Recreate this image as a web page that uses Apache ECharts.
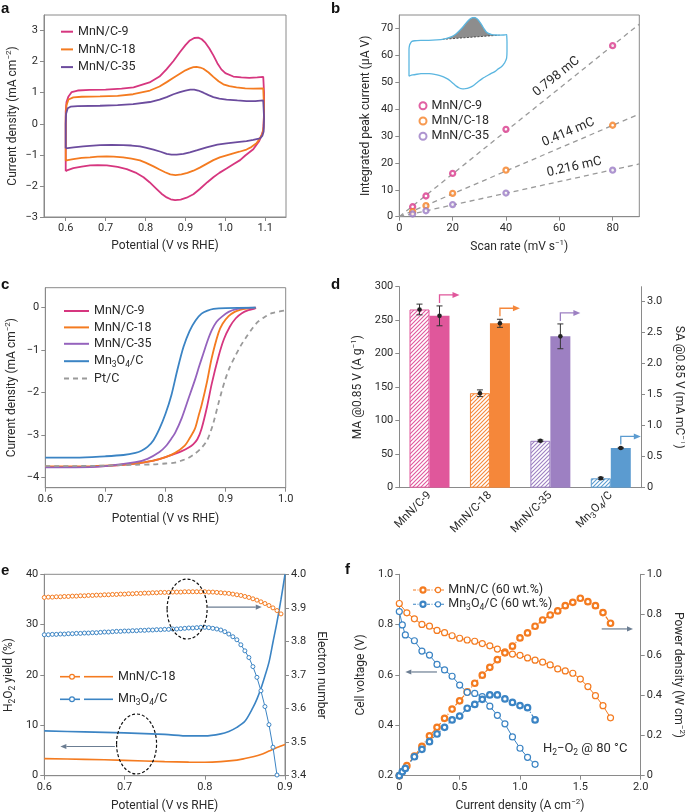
<!DOCTYPE html>
<html>
<head>
<meta charset="utf-8">
<script src="https://cdn.jsdelivr.net/npm/echarts@6.0.0/dist/echarts.min.js"></script>
<style>
html,body{margin:0;padding:0;background:#ffffff;}
#chart{width:685px;height:812px;}
</style>
</head>
<body>
<div id="chart"></div>
<script>
// ===== Panel a: cyclic voltammograms [potential V vs RHE, current density mA cm-2] =====
const cvMnNC9 = [[0.6,-1.53],[0.6,-0.5],[0.6,0.4],[0.602,0.7],[0.607,0.88],[0.615,1.02],[0.63,1.07],[0.66,1.09],[0.7,1.1],[0.74,1.13],[0.77,1.17],[0.81,1.33],[0.835,1.52],[0.853,1.76],[0.87,2.02],[0.886,2.3],[0.9,2.53],[0.911,2.68],[0.922,2.76],[0.932,2.77],[0.941,2.72],[0.949,2.62],[0.96,2.42],[0.97,2.2],[0.98,1.95],[0.99,1.75],[1.0,1.63],[1.02,1.52],[1.04,1.49],[1.06,1.48],[1.08,1.49],[1.095,1.51],[1.097,1.52],
  [1.097,1.0],[1.097,0.3],[1.095,-0.2],[1.09,-0.4],[1.085,-0.55],[1.07,-0.82],[1.05,-1.02],[1.037,-1.17],[1.02,-1.3],[1.003,-1.44],[0.985,-1.58],[0.97,-1.72],[0.955,-1.88],[0.936,-2.1],[0.92,-2.27],[0.903,-2.38],[0.888,-2.44],[0.874,-2.46],[0.863,-2.43],[0.853,-2.37],[0.84,-2.25],[0.828,-2.1],[0.81,-1.88],[0.795,-1.72],[0.775,-1.57],[0.753,-1.46],[0.73,-1.39],[0.703,-1.34],[0.68,-1.33],[0.661,-1.34],[0.64,-1.38],[0.619,-1.43],[0.605,-1.49],[0.6,-1.53]];
const cvMnNC18 = [[0.6,-1.19],[0.6,0.2],[0.602,0.6],[0.607,0.78],[0.619,0.85],[0.64,0.87],[0.686,0.88],[0.73,0.9],[0.769,0.95],[0.811,1.07],[0.835,1.2],[0.853,1.34],[0.87,1.48],[0.886,1.61],[0.9,1.72],[0.911,1.78],[0.92,1.82],[0.928,1.83],[0.937,1.81],[0.945,1.77],[0.958,1.65],[0.97,1.51],[0.983,1.37],[0.995,1.27],[1.01,1.21],[1.028,1.17],[1.05,1.14],[1.07,1.13],[1.095,1.14],[1.097,1.15],
  [1.097,0.5],[1.096,-0.1],[1.093,-0.32],[1.085,-0.5],[1.078,-0.63],[1.065,-0.75],[1.053,-0.83],[1.035,-0.9],[1.02,-0.95],[0.986,-1.08],[0.97,-1.17],[0.953,-1.29],[0.936,-1.41],[0.92,-1.51],[0.905,-1.58],[0.89,-1.63],[0.875,-1.65],[0.862,-1.63],[0.849,-1.56],[0.835,-1.47],[0.82,-1.37],[0.8,-1.25],[0.786,-1.18],[0.765,-1.12],[0.744,-1.08],[0.72,-1.06],[0.703,-1.05],[0.68,-1.06],[0.661,-1.08],[0.64,-1.1],[0.619,-1.14],[0.605,-1.17],[0.6,-1.19]];
const cvMnNC35 = [[0.6,-0.79],[0.6,0.0],[0.601,0.32],[0.605,0.5],[0.612,0.55],[0.63,0.57],[0.686,0.58],[0.73,0.6],[0.769,0.63],[0.811,0.7],[0.835,0.78],[0.853,0.86],[0.87,0.95],[0.886,1.02],[0.9,1.07],[0.912,1.1],[0.922,1.1],[0.932,1.07],[0.945,1.0],[0.958,0.92],[0.97,0.86],[0.985,0.81],[1.003,0.78],[1.03,0.75],[1.053,0.73],[1.075,0.73],[1.095,0.75],[1.097,0.76],
  [1.097,0.2],[1.096,-0.25],[1.093,-0.38],[1.087,-0.47],[1.07,-0.52],[1.053,-0.56],[1.03,-0.59],[1.003,-0.63],[0.98,-0.67],[0.953,-0.76],[0.93,-0.85],[0.911,-0.92],[0.895,-0.97],[0.878,-0.99],[0.865,-0.99],[0.853,-0.97],[0.838,-0.9],[0.82,-0.83],[0.8,-0.77],[0.786,-0.73],[0.765,-0.7],[0.744,-0.69],[0.715,-0.68],[0.686,-0.69],[0.66,-0.71],[0.644,-0.73],[0.62,-0.76],[0.6,-0.79]];

// ===== Panel b: integrated peak current vs scan rate =====
const scanRates = [5, 10, 20, 40, 80];
const peakMnNC9 = [3.7, 7.7, 16.1, 32.5, 63.6];
const peakMnNC18 = [1.9, 4.1, 8.7, 17.3, 34.0];
const peakMnNC35 = [1.0, 2.2, 4.5, 8.8, 17.3];
const fitLabels = ['0.798 mC', '0.414 mC', '0.216 mC'];
const fitEndAt90 = [71.6, 38.2, 19.6];

// ===== Panel c: ORR polarization curves [V, mA cm-2] =====
const lsvMnNC9 = [[0.6,-3.75],[0.65,-3.75],[0.7,-3.73],[0.75,-3.67],[0.78,-3.6],[0.8,-3.52],[0.816,-3.44],[0.827,-3.38],[0.838,-3.3],[0.846,-3.22],[0.853,-3.1],[0.86,-2.85],[0.869,-2.34],[0.877,-1.79],[0.888,-1.16],[0.897,-0.75],[0.907,-0.45],[0.917,-0.25],[0.927,-0.13],[0.938,-0.06],[0.949,-0.02],[0.95,0]];
const lsvMnNC18 = [[0.6,-3.74],[0.65,-3.74],[0.7,-3.72],[0.75,-3.67],[0.78,-3.6],[0.8,-3.52],[0.816,-3.42],[0.832,-3.25],[0.84,-3.08],[0.849,-2.85],[0.855,-2.55],[0.86,-2.3],[0.869,-1.75],[0.877,-1.18],[0.888,-0.6],[0.895,-0.38],[0.905,-0.2],[0.915,-0.1],[0.924,-0.05],[0.935,-0.02],[0.95,0]];
const lsvMnNC35 = [[0.6,-3.76],[0.65,-3.76],[0.7,-3.73],[0.75,-3.64],[0.77,-3.56],[0.79,-3.4],[0.8,-3.27],[0.81,-3.08],[0.816,-2.95],[0.827,-2.6],[0.838,-2.15],[0.849,-1.7],[0.856,-1.38],[0.863,-1.08],[0.87,-0.78],[0.877,-0.53],[0.885,-0.33],[0.894,-0.21],[0.905,-0.1],[0.916,-0.04],[0.93,-0.01],[0.95,0]];
const lsvMn3O4 = [[0.6,-3.53],[0.65,-3.53],[0.7,-3.5],[0.73,-3.47],[0.75,-3.42],[0.76,-3.37],[0.77,-3.28],[0.78,-3.12],[0.79,-2.85],[0.8,-2.5],[0.81,-2.05],[0.82,-1.45],[0.83,-0.92],[0.84,-0.55],[0.85,-0.3],[0.86,-0.14],[0.87,-0.07],[0.88,-0.03],[0.9,-0.01],[0.95,0]];
const lsvPtC = [[0.6,-3.73],[0.65,-3.73],[0.7,-3.72],[0.75,-3.7],[0.78,-3.69],[0.8,-3.67],[0.816,-3.65],[0.827,-3.6],[0.838,-3.54],[0.849,-3.44],[0.86,-3.3],[0.869,-3.13],[0.875,-2.92],[0.88,-2.7],[0.888,-2.26],[0.893,-2.0],[0.899,-1.71],[0.907,-1.4],[0.916,-1.14],[0.925,-0.9],[0.935,-0.68],[0.945,-0.48],[0.954,-0.33],[0.965,-0.22],[0.977,-0.13],[0.99,-0.09],[1.0,-0.06]];

// ===== Panel d: mass activity / specific activity =====
const catalysts = ['MnN/C-9', 'MnN/C-18', 'MnN/C-35', 'Mn3O4/C'];
const massActivity = [266, 141, 70, 14];
const massActivityErr = [8, 5, 1.2, 1.5];
const specActivity = [2.77, 2.65, 2.44, 0.64];
const specActivityErr = [0.16, 0.065, 0.2, 0.01];

// ===== Panel e: RRDE H2O2 yield and electron number =====
const h2o2MnNC18 = [[0.6,3.4],[0.65,3.25],[0.7,3.05],[0.75,2.8],[0.78,2.7],[0.8,2.68],[0.82,2.8],[0.84,3.1],[0.85,3.4],[0.86,3.75],[0.87,4.2],[0.88,4.9],[0.89,5.6],[0.9,6.2]];
const h2o2Mn3O4 = [[0.6,8.9],[0.65,8.7],[0.7,8.5],[0.75,8.2],[0.78,7.9],[0.8,7.9],[0.82,8.3],[0.83,8.8],[0.84,9.6],[0.85,10.8],[0.86,13.5],[0.865,15.2],[0.87,17.3],[0.875,19.8],[0.88,22.5],[0.885,26.5],[0.89,30.5],[0.895,35],[0.9,40]];
const rrdePotential = [0.6,0.605,0.61,0.615,0.62,0.625,0.63,0.635,0.64,0.645,0.65,0.655,0.66,0.665,0.67,0.675,0.68,0.685,0.69,0.695,0.7,0.705,0.71,0.715,0.72,0.725,0.73,0.735,0.74,0.745,0.75,0.755,0.76,0.765,0.77,0.775,0.78,0.785,0.79,0.795,0.8,0.805,0.81,0.815,0.82,0.825,0.83,0.835,0.84,0.845,0.85,0.855,0.86,0.865,0.87,0.875,0.88,0.885,0.89,0.895];
const nMnNC18 = [3.931,3.932,3.932,3.933,3.933,3.934,3.934,3.935,3.935,3.936,3.936,3.937,3.937,3.938,3.938,3.939,3.939,3.940,3.940,3.941,3.941,3.942,3.942,3.943,3.943,3.944,3.944,3.945,3.945,3.946,3.946,3.946,3.947,3.947,3.947,3.948,3.948,3.948,3.948,3.948,3.948,3.947,3.947,3.946,3.945,3.944,3.943,3.941,3.939,3.937,3.934,3.931,3.927,3.923,3.918,3.913,3.907,3.900,3.892,3.882];
const nMn3O4 = [3.820,3.820,3.821,3.821,3.822,3.822,3.823,3.823,3.824,3.824,3.825,3.825,3.826,3.826,3.827,3.828,3.828,3.829,3.830,3.830,3.831,3.831,3.832,3.832,3.833,3.833,3.834,3.834,3.835,3.835,3.836,3.836,3.837,3.837,3.838,3.839,3.840,3.840,3.841,3.842,3.842,3.841,3.839,3.837,3.834,3.829,3.822,3.814,3.805,3.790,3.772,3.752,3.725,3.693,3.653,3.606,3.552,3.485,3.402];

// ===== Panel f: H2-O2 fuel cell polarization / power =====
const fcCurrentMnNC = [0,0.0625,0.125,0.1875,0.25,0.3125,0.375,0.4375,0.5,0.5625,0.625,0.6875,0.75,0.8125,0.875,0.9375,1.0,1.0625,1.125,1.1875,1.25,1.3125,1.375,1.4375,1.5,1.5625,1.625,1.6875,1.75];
const fcVoltageMnNC = [0.884,0.847,0.823,0.801,0.794,0.777,0.768,0.756,0.746,0.739,0.734,0.725,0.716,0.703,0.692,0.683,0.678,0.668,0.659,0.651,0.640,0.624,0.616,0.607,0.584,0.554,0.518,0.478,0.430];
const fcPowerMnNC = [0,0.05,0.097,0.146,0.198,0.24,0.285,0.331,0.372,0.416,0.459,0.499,0.538,0.576,0.61,0.643,0.684,0.709,0.742,0.773,0.798,0.818,0.844,0.861,0.881,0.864,0.844,0.81,0.757];
const fcCurrentMn3O4 = [0,0.025,0.05,0.125,0.1875,0.25,0.3125,0.375,0.4375,0.5,0.5625,0.625,0.6875,0.75,0.8125,0.875,0.9375,1.0,1.0625,1.125];
const fcVoltageMn3O4 = [0.852,0.799,0.759,0.736,0.695,0.679,0.642,0.62,0.595,0.56,0.531,0.527,0.514,0.476,0.44,0.406,0.354,0.309,0.273,0.245];
const fcPowerMn3O4 = [0,0.02,0.036,0.094,0.131,0.169,0.207,0.24,0.277,0.296,0.335,0.354,0.379,0.401,0.401,0.381,0.364,0.348,0.338,0.277];

// ===== Tick labels =====
const ticksAx = [0.6,0.7,0.8,0.9,1.0,1.1];
const ticksAy = [-3,-2,-1,0,1,2,3];
const ticksBx = [0,20,40,60,80];
const ticksBy = [0,10,20,30,40,50,60,70];
const ticksCx = [0.6,0.7,0.8,0.9,1.0];
const ticksCy = [-4,-3,-2,-1,0];
const ticksDl = [0,50,100,150,200,250,300];
const ticksDr = [0,0.5,1.0,1.5,2.0,2.5,3.0];
const ticksEx = [0.6,0.7,0.8,0.9];
const ticksEl = [0,10,20,30,40];
const ticksEr = [3.4,3.5,3.6,3.7,3.8,3.9,4.0];
const ticksFx = [0,0.5,1.0,1.5,2.0];
const ticksFl = [0.2,0.4,0.6,0.8,1.0];
const ticksFr = [0,0.2,0.4,0.6,0.8,1.0];

// ===== Styling =====
const FONT = 'Roboto, "Liberation Sans", Arial, sans-serif';
const TX = '#2b2b2b';
const AX = '#8a8a8a';
const PINK = '#d6367f', ORANGE = '#f47b20', PURPLE_A = '#6c4c9e', PURPLE = '#9563bd', BLUE = '#3b84c4';
const D_COLORS = ['#e0579b', '#f5873a', '#9d80c2', '#5b9bd0'];
const B_COLORS = ['#d93a8c', '#f58024', '#9a7bc4'];
const ARROW = '#6b7d92';
const RICH = {
  sup: {fontSize: 8, verticalAlign: 'top', lineHeight: 16, fontFamily: FONT, color: TX},
  sub: {fontSize: 8.5, verticalAlign: 'bottom', lineHeight: 16, fontFamily: FONT, color: TX}
};
const sub = s => s.replace('Mn3O4', 'Mn{sub|3}O{sub|4}');

function vAxis(o) {
  const fmt = o.fmt || (v => String(v));
  return {
    type: 'value', gridIndex: o.grid, min: o.min, max: o.max, position: o.position,
    name: o.name || '', nameLocation: 'middle', nameGap: o.gap || 25, nameRotate: o.rotate,
    nameMoveOverlap: false,
    nameTextStyle: {fontSize: 12, color: TX, fontFamily: FONT, rich: RICH},
    axisLine: {show: true, onZero: false, lineStyle: {color: AX, width: 1}},
    axisTick: {show: true, inside: false, length: 4, lineStyle: {color: AX, width: 1}, customValues: o.ticks},
    axisLabel: {show: true, color: TX, fontSize: 11, fontFamily: FONT, margin: 6, customValues: o.ticks,
      hideOverlap: false, formatter: v => fmt(v).replace('-', '\u2212')},
    splitLine: {show: false}
  };
}
const f1 = v => v.toFixed(1);
const f1z = v => v === 0 ? '0' : v.toFixed(1);

function hatch(color) {
  const c = document.createElement('canvas');
  c.width = 4; c.height = 4;
  const g = c.getContext('2d');
  g.fillStyle = '#ffffff'; g.fillRect(0, 0, 4, 4);
  g.strokeStyle = color; g.lineWidth = 1.1;
  g.beginPath();
  g.moveTo(0, 4); g.lineTo(4, 0);
  g.moveTo(-1, 1); g.lineTo(1, -1);
  g.moveTo(3, 5); g.lineTo(5, 3);
  g.stroke();
  return {image: c, repeat: 'repeat'};
}

function arrowShapes(a, b, color, lw) {
  const ang = Math.atan2(b[1] - a[1], b[0] - a[0]);
  const L = 6, W = 2.6;
  const bx = b[0] - L * Math.cos(ang), by = b[1] - L * Math.sin(ang);
  return [
    {type: 'line', shape: {x1: a[0], y1: a[1], x2: bx, y2: by}, style: {stroke: color, lineWidth: lw}},
    {type: 'polygon', shape: {points: [[b[0], b[1]], [bx - W * Math.sin(ang), by + W * Math.cos(ang)], [bx + W * Math.sin(ang), by - W * Math.cos(ang)]]}, style: {fill: color}}
  ];
}
function arrowSeries(xi, yi, data) {
  return {
    type: 'custom', xAxisIndex: xi, yAxisIndex: yi, data: data, z: 5,
    dimensions: ['x1', 'y1', 'x2', 'y2'], encode: {x: [0, 2], y: [1, 3]},
    renderItem: (params, api) => {
      const a = api.coord([api.value(0), api.value(1)]);
      const b = api.coord([api.value(2), api.value(3)]);
      return {type: 'group', children: arrowShapes(a, b, ARROW, 1.2)};
    }
  };
}
const zip = (xs, ys) => xs.map((x, i) => [x, ys[i]]);

const LEG = {
  a9: 'MnN/C-9', a18: 'MnN/C-18', a35: 'MnN/C-35',
  b9: 'MnN/C-9', b18: 'MnN/C-18', b35: 'MnN/C-35',
  c9: 'MnN/C-9', c18: 'MnN/C-18', c35: 'MnN/C-35', cMn: sub('Mn3O4/C'), cPt: 'Pt/C'
};
const legendText = {fontSize: 12.5, color: TX, fontFamily: FONT, lineHeight: 14, rich: RICH};

// upper branch of the MnN/C-9 CV, used for the inset's shaded peak
const upperEnd = cvMnNC9.findIndex(p => p[0] >= 1.097);
const insetPeak = cvMnNC9.slice(0, upperEnd + 1).filter(p => p[0] >= 0.743 && p[0] <= 1.064);

const fitLabelX = [61.5, 65, 66.5];

const option = {
  animation: false,
  backgroundColor: '#ffffff',
  textStyle: {fontFamily: FONT},
  grid: [
    {left: 44, top: 15, width: 242, height: 202, show: true, borderColor: AX, borderWidth: 1, outerBoundsMode: 'none'},
    {left: 399.3, top: 15, width: 240, height: 201.7, show: true, borderColor: AX, borderWidth: 1, outerBoundsMode: 'none'},
    {left: 45.3, top: 287.7, width: 240.4, height: 200, show: true, borderColor: AX, borderWidth: 1, outerBoundsMode: 'none'},
    {left: 399.3, top: 286.7, width: 241.7, height: 201, outerBoundsMode: 'none'},
    {left: 44.3, top: 574.3, width: 240.7, height: 201.4, show: true, borderColor: AX, borderWidth: 1, outerBoundsMode: 'none'},
    {left: 399.3, top: 574.3, width: 241.4, height: 201.4, outerBoundsMode: 'none'},
    {left: 409, top: 17.5, width: 98, height: 71.5, outerBoundsMode: 'none'}
  ],
  xAxis: [
    vAxis({grid: 0, min: 0.5456, max: 1.152, ticks: ticksAx, fmt: f1, name: 'Potential (V vs RHE)', gap: 23}),
    vAxis({grid: 1, min: 0, max: 90, ticks: ticksBx, name: 'Scan rate (mV s{sup|\u22121})', gap: 22}),
    vAxis({grid: 2, min: 0.6, max: 1.0, ticks: ticksCx, fmt: f1, name: 'Potential (V vs RHE)', gap: 25}),
    {type: 'category', gridIndex: 3, data: catalysts, boundaryGap: true,
      axisLine: {show: true, lineStyle: {color: AX, width: 1}}, axisTick: {show: false},
      axisLabel: {interval: 0, rotate: 45, color: TX, fontSize: 11.5, fontFamily: FONT, margin: 6, rich: RICH,
        formatter: v => sub(v)}},
    vAxis({grid: 4, min: 0.6, max: 0.9, ticks: ticksEx, fmt: f1, name: 'Potential (V vs RHE)', gap: 24}),
    vAxis({grid: 5, min: 0, max: 2.0, ticks: ticksFx, fmt: f1z, name: 'Current density (A cm{sup|\u22122})', gap: 22}),
    {type: 'value', gridIndex: 6, min: 0.6, max: 1.097, show: false}
  ],
  yAxis: [
    vAxis({grid: 0, min: -3, max: 3.5, ticks: ticksAy, name: 'Current density (mA cm{sup|\u22122})', gap: 23}),
    vAxis({grid: 1, min: 0, max: 75, ticks: ticksBy, name: 'Integrated peak current (\u03bcA V)', gap: 27}),
    vAxis({grid: 2, min: -4.24, max: 0.47, ticks: ticksCy, name: 'Current density (mA cm{sup|\u22122})', gap: 25}),
    vAxis({grid: 3, min: 0, max: 300, ticks: ticksDl, name: 'MA @0.85 V (A g{sup|\u22121})', gap: 33}),
    vAxis({grid: 3, position: 'right', min: 0, max: 3.24, ticks: ticksDr, fmt: f1z, name: 'SA @0.85 V (mA mC{sup|\u22121})', gap: 30, rotate: -90}),
    vAxis({grid: 4, min: 0, max: 40, ticks: ticksEl, name: 'H{sub|2}O{sub|2} yield (%)', gap: 27}),
    vAxis({grid: 4, position: 'right', min: 3.4, max: 4.0, ticks: ticksEr, fmt: f1, name: 'Electron number', gap: 30, rotate: -90}),
    vAxis({grid: 5, min: 0.2, max: 1.0, ticks: ticksFl, fmt: f1, name: 'Cell voltage (V)', gap: 32}),
    vAxis({grid: 5, position: 'right', min: 0, max: 1.0, ticks: ticksFr, fmt: f1z, name: 'Power density (W cm{sup|\u22122})', gap: 29, rotate: -90}),
    {type: 'value', gridIndex: 6, min: -2.46, max: 2.77, show: false}
  ],
  legend: [
    {data: ['a9', 'a18', 'a35'], left: 55, top: 19.7, orient: 'vertical', itemWidth: 12, itemHeight: 14, itemGap: 3.7,
      itemStyle: {opacity: 0}, selectedMode: false, formatter: n => LEG[n], textStyle: legendText},
    {data: ['b9', 'b18', 'b35'], left: 413.5, top: 93.7, orient: 'vertical', itemWidth: 7, itemHeight: 7, itemGap: 1.3,
      selectedMode: false, formatter: n => LEG[n], textStyle: legendText},
    {data: ['c9', 'c18', 'c35', 'cMn', 'cPt'], left: 58, top: 299, orient: 'vertical', itemWidth: 25, itemHeight: 14, itemGap: 2.4,
      itemStyle: {opacity: 0}, selectedMode: false, formatter: n => LEG[n], textStyle: legendText}
  ],
  series: [
    // ---- a ----
    {name: 'a9', type: 'line', xAxisIndex: 0, yAxisIndex: 0, data: cvMnNC9, symbol: 'none', color: PINK, lineStyle: {color: PINK, width: 1.8}},
    {name: 'a18', type: 'line', xAxisIndex: 0, yAxisIndex: 0, data: cvMnNC18, symbol: 'none', color: ORANGE, lineStyle: {color: ORANGE, width: 1.8}},
    {name: 'a35', type: 'line', xAxisIndex: 0, yAxisIndex: 0, data: cvMnNC35, symbol: 'none', color: PURPLE_A, lineStyle: {color: PURPLE_A, width: 1.8}},
    // ---- b ----
    ...fitEndAt90.map((e, i) => ({type: 'line', xAxisIndex: 1, yAxisIndex: 1, data: [[0, 0], [90, e]], symbol: 'none', silent: true,
      lineStyle: {color: '#9a9a9a', width: 1.3, type: [5, 4]}, z: 1})),
    {type: 'custom', xAxisIndex: 1, yAxisIndex: 1, data: fitLabels.map((t, i) => [i]), z: 4,
      renderItem: (params, api) => {
        const i = api.value(0);
        const p0 = api.coord([0, 0]), p1 = api.coord([90, fitEndAt90[i]]);
        const ang = Math.atan2(p1[1] - p0[1], p1[0] - p0[0]);
        const lx = fitLabelX[i];
        const pm = api.coord([lx, fitEndAt90[i] * lx / 90]);
        const d = 11;
        return {type: 'text', x: pm[0] + d * Math.sin(ang), y: pm[1] - d * Math.cos(ang), rotation: -ang,
          style: {text: fitLabels[i], fill: TX, fontSize: 13, fontFamily: FONT, align: 'center', verticalAlign: 'middle'}};
      }},
    {name: 'b9', type: 'scatter', xAxisIndex: 1, yAxisIndex: 1, data: zip(scanRates, peakMnNC9), symbol: 'circle', symbolSize: 5, z: 6,
      itemStyle: {color: '#ffffff', borderColor: B_COLORS[0], borderWidth: 2.3}},
    {name: 'b18', type: 'scatter', xAxisIndex: 1, yAxisIndex: 1, data: zip(scanRates, peakMnNC18), symbol: 'circle', symbolSize: 5, z: 6,
      itemStyle: {color: '#ffffff', borderColor: B_COLORS[1], borderWidth: 2.3}},
    {name: 'b35', type: 'scatter', xAxisIndex: 1, yAxisIndex: 1, data: zip(scanRates, peakMnNC35), symbol: 'circle', symbolSize: 5, z: 6,
      itemStyle: {color: '#ffffff', borderColor: B_COLORS[2], borderWidth: 2.3}},
    // inset
    {type: 'custom', xAxisIndex: 6, yAxisIndex: 9, data: [[0.9, 0]], encode: {x: 0, y: 1}, z: 2,
      renderItem: (params, api) => {
        const pts = insetPeak.map(p => api.coord(p));
        return {type: 'group', children: [
          {type: 'polygon', shape: {points: pts}, style: {fill: '#8d8d8d'}},
          {type: 'line', shape: {x1: pts[0][0], y1: pts[0][1], x2: pts[pts.length - 1][0], y2: pts[pts.length - 1][1]},
            style: {stroke: '#333', lineWidth: 0.8, lineDash: [2, 1.5]}}
        ]};
      }},
    {type: 'line', xAxisIndex: 6, yAxisIndex: 9, data: cvMnNC9, symbol: 'none', smooth: 0.2, z: 3,
      lineStyle: {color: '#5bb6e0', width: 1.3}},
    // ---- c ----
    {name: 'c9', type: 'line', xAxisIndex: 2, yAxisIndex: 2, data: lsvMnNC9, symbol: 'none', smooth: 0.3, color: PINK, lineStyle: {color: PINK, width: 1.8}},
    {name: 'c18', type: 'line', xAxisIndex: 2, yAxisIndex: 2, data: lsvMnNC18, symbol: 'none', smooth: 0.3, color: ORANGE, lineStyle: {color: ORANGE, width: 1.8}},
    {name: 'c35', type: 'line', xAxisIndex: 2, yAxisIndex: 2, data: lsvMnNC35, symbol: 'none', smooth: 0.3, color: PURPLE, lineStyle: {color: PURPLE, width: 1.8}},
    {name: 'cMn', type: 'line', xAxisIndex: 2, yAxisIndex: 2, data: lsvMn3O4, symbol: 'none', smooth: 0.3, color: BLUE, lineStyle: {color: BLUE, width: 1.8}},
    {name: 'cPt', type: 'line', xAxisIndex: 2, yAxisIndex: 2, data: lsvPtC, symbol: 'none', smooth: 0.3, color: '#9a9a9a', lineStyle: {color: '#9a9a9a', width: 1.8, type: [5, 4]}},
    // ---- d ----
    {type: 'bar', xAxisIndex: 3, yAxisIndex: 3, barWidth: 20, barGap: '0%',
      data: massActivity.map((v, i) => ({value: v, itemStyle: {color: hatch(D_COLORS[i]), borderColor: D_COLORS[i], borderWidth: 1}}))},
    {type: 'bar', xAxisIndex: 3, yAxisIndex: 4, barWidth: 20, barGap: '0%',
      data: specActivity.map((v, i) => ({value: v, itemStyle: {color: D_COLORS[i]}}))},
    ...[[3, massActivity, massActivityErr, -10], [4, specActivity, specActivityErr, 10]].map(([yi, vals, errs, off]) => ({
      type: 'custom', xAxisIndex: 3, yAxisIndex: yi, z: 5, encode: {x: 0, y: 1},
      data: vals.map((v, i) => [i, v, errs[i]]),
      renderItem: (params, api) => {
        const i = api.value(0), v = api.value(1), e = api.value(2);
        const c = api.coord([i, v]), t = api.coord([i, v + e]), b = api.coord([i, v - e]);
        const x = c[0] + off;
        return {type: 'group', children: [
          {type: 'line', shape: {x1: x, y1: t[1], x2: x, y2: b[1]}, style: {stroke: '#333', lineWidth: 1}},
          {type: 'line', shape: {x1: x - 3, y1: t[1], x2: x + 3, y2: t[1]}, style: {stroke: '#333', lineWidth: 1}},
          {type: 'line', shape: {x1: x - 3, y1: b[1], x2: x + 3, y2: b[1]}, style: {stroke: '#333', lineWidth: 1}},
          {type: 'circle', shape: {cx: x, cy: c[1], r: 2.3}, style: {fill: '#222'}}
        ]};
      }
    })),
    {type: 'custom', xAxisIndex: 3, yAxisIndex: 4, z: 5, encode: {x: 0, y: 1},
      data: specActivity.map((v, i) => [i, v + specActivityErr[i]]),
      renderItem: (params, api) => {
        const i = api.value(0);
        const c = api.coord([i, api.value(1)]);
        const x = c[0] + 10, y0 = c[1] - 3, y1 = y0 - 8, col = D_COLORS[i];
        return {type: 'group', children: [
          {type: 'polyline', shape: {points: [[x, y0], [x, y1], [x + 14, y1]]}, style: {stroke: col, lineWidth: 1.3, fill: null}},
          {type: 'polygon', shape: {points: [[x + 20, y1], [x + 13, y1 - 3], [x + 13, y1 + 3]]}, style: {fill: col}}
        ]};
      }},
    // ---- e ----
    {type: 'line', xAxisIndex: 4, yAxisIndex: 5, data: h2o2MnNC18, symbol: 'none', smooth: 0.3, lineStyle: {color: ORANGE, width: 1.6}},
    {type: 'line', xAxisIndex: 4, yAxisIndex: 5, data: h2o2Mn3O4, symbol: 'none', smooth: 0.3, lineStyle: {color: BLUE, width: 1.6}},
    {type: 'line', xAxisIndex: 4, yAxisIndex: 6, data: zip(rrdePotential, nMnNC18), symbol: 'circle', symbolSize: 4, showAllSymbol: true,
      itemStyle: {color: '#ffffff', borderColor: ORANGE, borderWidth: 1}, lineStyle: {color: ORANGE, width: 1}},
    {type: 'line', xAxisIndex: 4, yAxisIndex: 6, data: zip(rrdePotential.slice(0, nMn3O4.length), nMn3O4), symbol: 'circle', symbolSize: 4, showAllSymbol: true,
      itemStyle: {color: '#ffffff', borderColor: BLUE, borderWidth: 1}, lineStyle: {color: BLUE, width: 1}},
    {type: 'custom', xAxisIndex: 4, yAxisIndex: 5, z: 5, data: [[0.778, 33.1], [0.715, 6.3]], encode: {x: 0, y: 1},
      renderItem: (params, api) => {
        const c = api.coord([api.value(0), api.value(1)]);
        return {type: 'ellipse', shape: {cx: c[0], cy: c[1], rx: 20, ry: 30},
          style: {fill: null, stroke: '#111', lineWidth: 1.2, lineDash: [3, 2]}};
      }},
    arrowSeries(4, 5, [[0.804, 33.5, 0.871, 33.5], [0.688, 5.8, 0.62, 5.8]]),
    // ---- f ----
    {type: 'line', xAxisIndex: 5, yAxisIndex: 7, data: zip(fcCurrentMnNC, fcVoltageMnNC), symbol: 'circle', symbolSize: 6, showAllSymbol: true,
      itemStyle: {color: '#ffffff', borderColor: ORANGE, borderWidth: 1.2}, lineStyle: {color: ORANGE, width: 1}},
    {type: 'line', xAxisIndex: 5, yAxisIndex: 8, data: zip(fcCurrentMnNC, fcPowerMnNC), symbol: 'circle', symbolSize: 5.5, showAllSymbol: true,
      itemStyle: {color: '#ffffff', borderColor: ORANGE, borderWidth: 2.2}, lineStyle: {color: ORANGE, width: 1.2, type: [4, 2, 1, 2]}},
    {type: 'line', xAxisIndex: 5, yAxisIndex: 7, data: zip(fcCurrentMn3O4, fcVoltageMn3O4), symbol: 'circle', symbolSize: 6, showAllSymbol: true,
      itemStyle: {color: '#ffffff', borderColor: BLUE, borderWidth: 1.2}, lineStyle: {color: BLUE, width: 1}},
    {type: 'line', xAxisIndex: 5, yAxisIndex: 8, data: zip(fcCurrentMn3O4, fcPowerMn3O4), symbol: 'circle', symbolSize: 5.5, showAllSymbol: true,
      itemStyle: {color: '#ffffff', borderColor: BLUE, borderWidth: 2.2}, lineStyle: {color: BLUE, width: 1.2, type: [4, 2, 1, 2]}},
    arrowSeries(5, 7, [[0.312, 0.612, 0.05, 0.612], [1.677, 0.783, 1.936, 0.783]]),
    {type: 'custom', xAxisIndex: 5, yAxisIndex: 7, z: 5, data: [[1.19, 0.306]], encode: {x: 0, y: 1},
      renderItem: (params, api) => {
        const c = api.coord([api.value(0), api.value(1)]);
        return {type: 'text', x: c[0], y: c[1], style: {text: 'H{sub|2}\u2212O{sub|2} @ 80 \u00b0C', fill: TX, fontSize: 13, fontFamily: FONT,
          align: 'left', verticalAlign: 'middle', rich: {sub: {fontSize: 8.5, verticalAlign: 'bottom', lineHeight: 17, fontFamily: FONT, fill: TX}}}};
      }}
  ],
  graphic: [
    ...[['a', 1, 1], ['b', 331, 1], ['c', 1, 277], ['d', 331, 277], ['e', 1, 563], ['f', 345, 562]].map(([t, x, y]) => ({
      type: 'text', x: x, y: y, style: {text: t, fill: '#111', font: 'bold 15px Arial, "Liberation Sans", sans-serif'}})),
    // legend e
    ...[[676.7, ORANGE, 'MnN/C-18'], [699.3, BLUE, 'Mn{sub|3}O{sub|4}/C']].map(([y, col, txt]) => ({
      type: 'group', children: [
        {type: 'line', shape: {x1: 60, y1: y, x2: 80, y2: y}, style: {stroke: col, lineWidth: 1.6}},
        {type: 'line', shape: {x1: 84, y1: y, x2: 113, y2: y}, style: {stroke: col, lineWidth: 1.6}},
        {type: 'circle', shape: {cx: 72, cy: y, r: 2.4}, style: {fill: '#ffffff', stroke: col, lineWidth: 1.2}},
        {type: 'text', x: 118, y: y, style: {text: txt, fill: TX, fontSize: 12.5, fontFamily: FONT, verticalAlign: 'middle', rich: RICH}}
      ]})),
    // legend f
    ...[[590, ORANGE, 'MnN/C (60 wt.%)'], [604.3, BLUE, 'Mn{sub|3}O{sub|4}/C (60 wt.%)']].map(([y, col, txt]) => ({
      type: 'group', children: [
        {type: 'line', shape: {x1: 413, y1: y, x2: 445, y2: y}, style: {stroke: col, lineWidth: 1.1, lineDash: [3, 1.5, 1, 1.5]}},
        {type: 'circle', shape: {cx: 423, cy: y, r: 2.6}, style: {fill: '#ffffff', stroke: col, lineWidth: 2.2}},
        {type: 'circle', shape: {cx: 438, cy: y, r: 2.6}, style: {fill: '#ffffff', stroke: col, lineWidth: 1.1}},
        {type: 'text', x: 448.3, y: y, style: {text: txt, fill: TX, fontSize: 12.5, fontFamily: FONT, verticalAlign: 'middle', rich: RICH}}
      ]}))
  ]
};

const chart = echarts.init(document.getElementById('chart'), null, {renderer: 'canvas', width: 685, height: 812});
chart.setOption(option);
</script>
</body>
</html>
